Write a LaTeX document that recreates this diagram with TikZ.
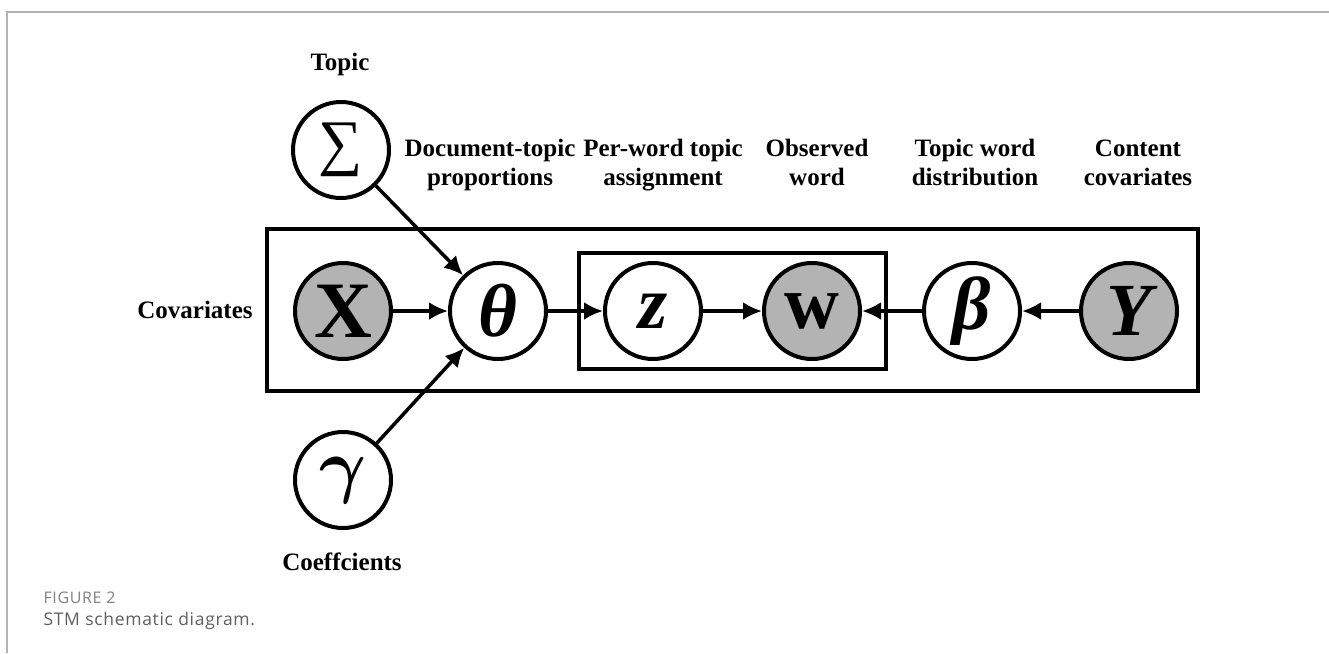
\documentclass[tikz,border=0pt]{standalone}
\usepackage{graphicx}
\usepackage{bm}
\usepackage{fontspec}
\setmainfont{Liberation Serif}
\newfontfamily\capfont{Open Sans}[LetterSpace=4]
\usetikzlibrary{arrows.meta}
\definecolor{shade}{RGB}{179,179,179}
\definecolor{framegray}{RGB}{178,178,178}
\definecolor{capgray}{RGB}{130,130,130}
\definecolor{captext}{RGB}{95,95,95}
\newcommand{\varsym}[1]{{\bfseries\itshape\fontsize{75}{75}\selectfont #1}}
\begin{document}
\begin{tikzpicture}[x=1pt,y=-1pt,
  var/.style={circle,draw,line width=4pt,minimum size=96pt,inner sep=0pt,fill=white},
  obs/.style={var,fill=shade},
  lbl/.style={font=\bfseries\fontsize{25}{29}\selectfont,align=center},
  link/.style={line width=3.5pt,-{Latex[length=19pt,width=18pt]}},
  plate/.style={draw,line width=4pt},
]
\useasboundingbox (0,0) rectangle (1329,653);
% page frame
\draw[framegray,line width=1.5pt] (7,653) -- (7,12) -- (1329,12);

% plates
\draw[plate] (267,229) rectangle (1198,391);
\draw[plate] (579,253) rectangle (886,369);

% variables
\node[var,font=\fontsize{62}{62}\selectfont] (S) at (341,150) {∑};
\node[obs] (X) at (343,311) {\scalebox{8}{$\mathbf{X}$}};
\node[var] (T) at (498,311) {\varsym{θ}};
\node[var] (Z) at (653,311) {\varsym{z}};
\node[obs] (W) at (812,311) {\scalebox{7.6}{$\mathbf{w}$}};
\node[var] (B) at (972,311) {\varsym{β}};
\node[obs] (Y) at (1129,311) {\varsym{Y}};
\node[var] (G) at (343,480) {\scalebox{7.2}{$\bm{\gamma}$}};

% labels
\node[lbl] (lTopic) at (340,64) {Topic};
\node[lbl] (lCov) at (195,310) {Covariates};
\node[lbl] (lCoef) at (342,562) {Coeffcients};
\node[lbl] (lDoc) at (490,165) {Document-topic\strut\\proportions\strut};
\node[lbl] (lPer) at (663,165) {Per-word topic\strut\\assignment\strut};
\node[lbl] (lObs) at (817,165) {Observed\strut\\word\strut};
\node[lbl] (lTw) at (975,165) {Topic word\strut\\distribution\strut};
\node[lbl] (lCc) at (1138,165) {Content\strut\\covariates\strut};

% edges
\draw[link] (S) -- (T);
\draw[link] (G) -- (T);
\draw[link] (X) -- (T);
\draw[link] (T) -- (Z);
\draw[link] (Z) -- (W);
\draw[link] (B) -- (W);
\draw[link] (Y) -- (B);

% caption
\node[anchor=west,text=capgray,font=\capfont\fontsize{16}{18}\selectfont] (cap1) at (40,598) {FIGURE 2};
\node[anchor=west,text=captext,font=\capfont\fontsize{17.5}{21}\selectfont] (cap2) at (40,621) {STM schematic diagram.};
\end{tikzpicture}
\end{document}
